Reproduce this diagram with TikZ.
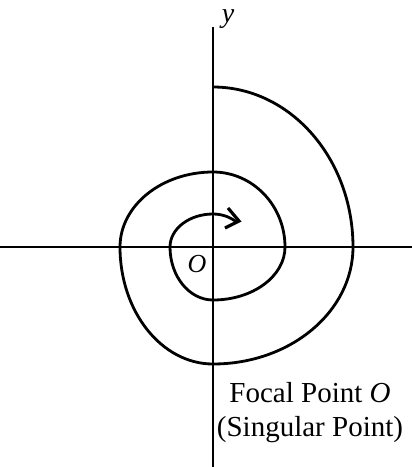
\documentclass[tikz,border=0pt]{standalone}
\usepackage{fontspec}
\setmainfont{Liberation Serif}
\begin{document}
\begin{tikzpicture}[x=1pt,y=-1pt,
  axis/.style={line width=2.7pt},
  spiral/.style={line width=2.8pt},
  barb/.style={line width=3.2pt,line join=miter,line cap=butt},
  lbl/.style={inner sep=0pt,font=\fontsize{29}{34}\selectfont}]
\useasboundingbox[fill=white] (0,0) rectangle (412,467);
\coordinate (O) at (213,247);
\coordinate (ytop) at (213,27);
\coordinate (ybot) at (213,467);
\coordinate (xl) at (0,247);
\coordinate (xr) at (412,247);
\coordinate (s0) at (213,87);
\coordinate (tip) at (239,221);
\coordinate (b1) at (228,208);
\coordinate (b2) at (225,228);
\draw[axis] (ybot) -- (ytop);
\draw[axis] (xl) -- (xr);
% spiral, clockwise, built of elliptical quarters
\draw[spiral] (s0)
  arc[start angle=90,end angle=0,x radius=140,y radius=-160]
  arc[start angle=0,end angle=-90,x radius=140,y radius=-117]
  arc[start angle=-90,end angle=-180,x radius=93,y radius=-117]
  arc[start angle=180,end angle=90,x radius=93,y radius=-75]
  arc[start angle=90,end angle=0,x radius=72,y radius=-75]
  arc[start angle=0,end angle=-90,x radius=72,y radius=-53]
  arc[start angle=-90,end angle=-180,x radius=43,y radius=-53]
  arc[start angle=180,end angle=90,x radius=43,y radius=-33]
  arc[start angle=90,end angle=48,x radius=36,y radius=-33];
\draw[barb] (b1) -- (tip) -- (b2);
\node[lbl,font=\fontsize{28}{34}\selectfont\itshape] (ylab) at (228,19) {y};
\node[lbl,font=\fontsize{26}{30}\selectfont\itshape] (olab) at (197,264) {O};
\node[lbl,anchor=base] (t1) at (310,402) {Focal Point \textit{O}};
\node[lbl,anchor=base] (t2) at (310,436) {(Singular Point)};
\end{tikzpicture}
\end{document}
